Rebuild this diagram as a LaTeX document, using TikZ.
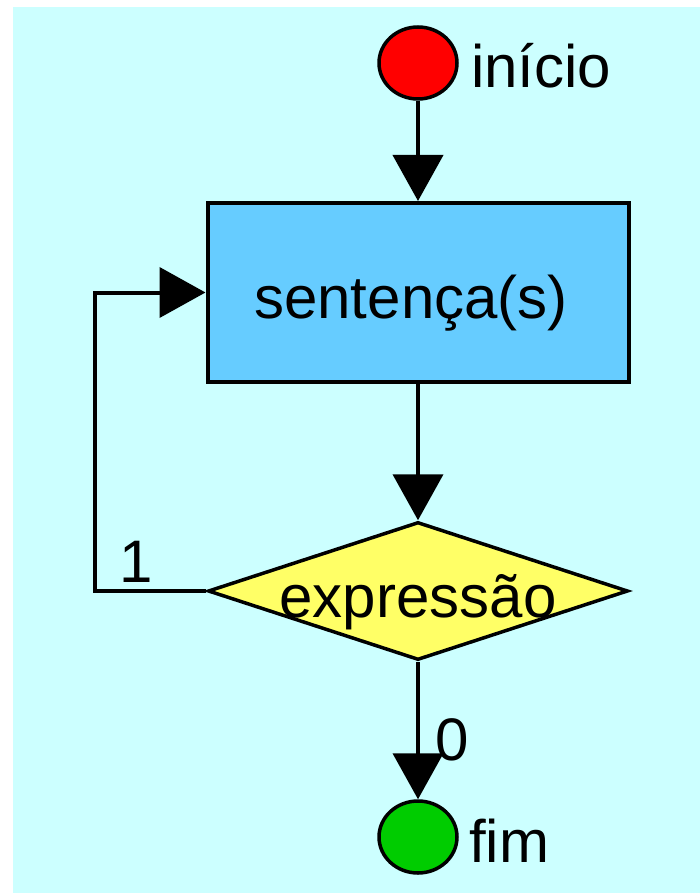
\documentclass[tikz,border=0pt]{standalone}
\usepackage{fontspec}
\setmainfont{Liberation Sans}
\usetikzlibrary{arrows.meta,positioning,shapes.geometric}

\definecolor{fundo}{HTML}{CCFFFF}
\definecolor{azulbloco}{HTML}{66CCFF}
\definecolor{amarelo}{HTML}{FFFF66}
\definecolor{verde}{HTML}{00CC00}

\begin{document}
\begin{tikzpicture}[x=1pt, y=-1pt,
      every node/.style={inner sep=0pt, font=\fontsize{60}{72}\selectfont},
      terminal/.style={draw, shape=ellipse, minimum width=78pt, minimum height=72pt, line width=3.5pt},
      bloco/.style={draw, rectangle, fill=azulbloco, minimum width=421pt, minimum height=179pt, line width=4pt},
      decisao/.style={draw, shape=diamond, fill=amarelo, minimum width=420pt, minimum height=138pt, line width=3.5pt},
      rotulo/.style={anchor=base west},
      seta/.style={line width=4pt, -{Triangle[width=50pt,length=46pt]}}  % setas grandes
   ]

   % fundo
   \useasboundingbox[fill=white] (0,0) rectangle (700,893);
   \fill[fundo] (13,7) rectangle (700,893);

   % nos
   \node[terminal, fill=red] (inicio) at (418,63) {};
   \node[bloco] (sentenca) at (418,292.5) {};
   \node[decisao] (expr) at (418,591) {};
   \node[terminal, fill=verde] (fim) at (418,837) {};

   % textos
   \node[rotulo] (Linicio) at (471,88) {início};
   \node[anchor=base] (Lsentenca) at (411,318) {sentença(s)};
   \node[anchor=base] (Lexpr) at (418,617) {expressão};
   \node[rotulo] (Lfim) at (469,862) {fim};
   \node[rotulo] (Lum) at (119,582) {1};
   \node[rotulo] (Lzero) at (435,760) {0};

   % ligacoes
   \coordinate (canto) at (95,591);
   \draw[seta] (inicio.south) -- (sentenca.north);
   \draw[seta] (sentenca.south) -- (expr.north);
   \draw[seta] (expr.south) -- (fim.north);
   \draw[seta] (expr.west) -- (canto) |- (sentenca.west);
\end{tikzpicture}
\end{document}
